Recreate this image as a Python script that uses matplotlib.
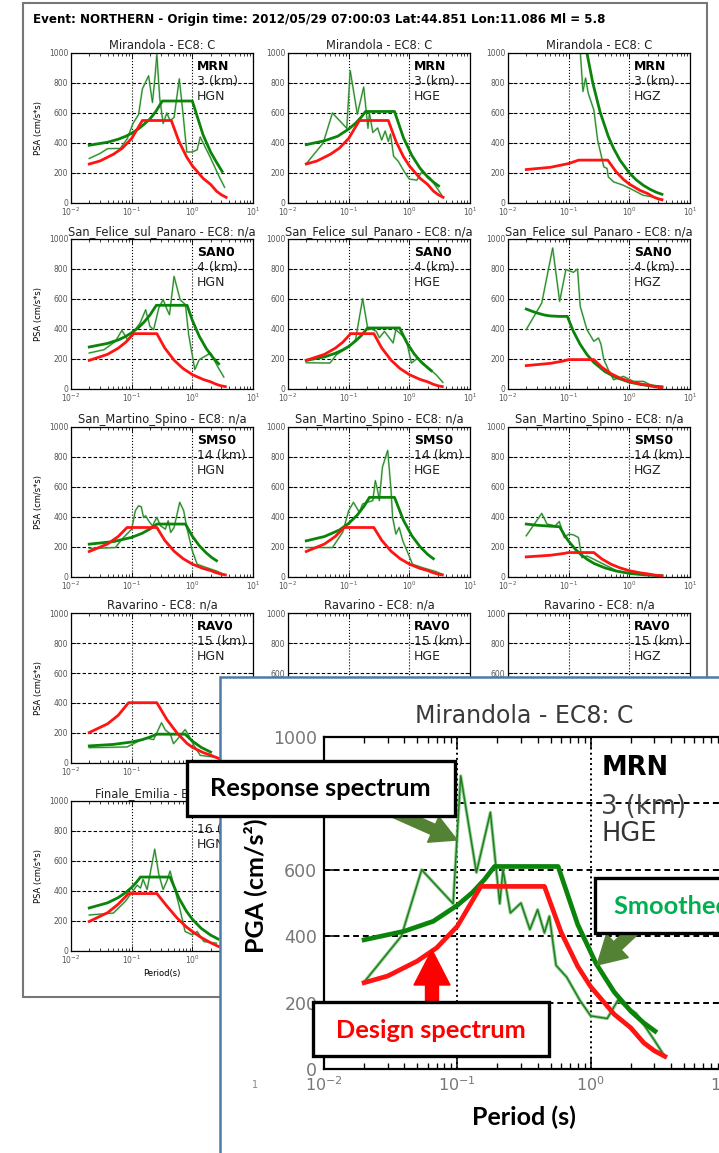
import matplotlib
matplotlib.use("Agg")
import matplotlib.pyplot as plt
from matplotlib.patches import Rectangle, FancyArrow
from matplotlib.transforms import Affine2D

# ---------------- data (period s, PSA cm/s^2) ----------------
event_title = "Event: NORTHERN - Origin time: 2012/05/29 07:00:03 Lat:44.851 Lon:11.086 Ml = 5.8"
stations = ["Mirandola", "San_Felice_sul_Panaro", "San_Martino_Spino", "Ravarino", "Finale_Emilia"]
ec8_class = ["C", "n/a", "n/a", "n/a", "n/a"]
codes = ["MRN", "SAN0", "SMS0", "RAV0", "FIN0"]
dist_km = [3, 4, 14, 15, 16]
components = ["HGN", "HGE", "HGZ"]

# Mirandola
mrn_h_design_T = [0.02, 0.03, 0.05, 0.07, 0.1, 0.15, 0.45, 0.6, 0.8, 1.0, 1.5, 2.0, 2.5, 3.0, 3.6]
mrn_h_design = [260, 280, 325, 365, 430, 550, 550, 412, 309, 248, 165, 124, 79, 55, 38]
mrn_z_design_T = [0.02, 0.05, 0.1, 0.146, 0.44, 0.6, 0.8, 1.0, 1.5, 2.0, 2.5, 3.0, 3.45]
mrn_z_design = [223, 238, 263, 286, 286, 210, 157, 126, 84, 63, 40, 28, 22]

mrn_hgn_smooth_T = [0.02, 0.04, 0.06, 0.08, 0.1, 0.13, 0.16, 0.2, 0.25, 0.32, 1.0, 1.5, 2.0, 2.5, 3.1]
mrn_hgn_smooth = [385, 405, 425, 445, 465, 495, 525, 560, 610, 680, 680, 455, 340, 272, 210]
mrn_hgn_resp_T = [0.02, 0.03, 0.04, 0.065, 0.085, 0.105, 0.13, 0.15, 0.19, 0.22, 0.24, 0.26, 0.29,
                  0.33, 0.38, 0.43, 0.5, 0.61, 0.7, 0.81, 1.0, 1.2, 1.35, 2.0, 2.7, 3.4]
mrn_hgn_resp = [297, 330, 362, 364, 430, 530, 590, 760, 848, 670, 820, 990, 700,
                530, 600, 550, 570, 828, 600, 340, 340, 355, 440, 300, 185, 105]

mrn_hge_smooth_T = [0.02, 0.04, 0.066, 0.1, 0.13, 0.16, 0.19, 0.57, 0.8, 1.1, 1.5, 2.0, 2.5, 3.04]
mrn_hge_smooth = [389, 415, 445, 493, 532, 571, 610, 610, 435, 317, 232, 174, 139, 114]
mrn_hge_resp_T = [0.02, 0.038, 0.054, 0.093, 0.106, 0.139, 0.177, 0.208, 0.22, 0.25, 0.3, 0.35, 0.4,
                  0.45, 0.49, 0.55, 0.66, 0.83, 1.0, 1.33, 1.6, 2.2, 3.0, 3.5]
mrn_hge_resp = [262, 400, 600, 498, 883, 592, 773, 498, 600, 470, 500, 420, 480,
                410, 460, 312, 277, 207, 160, 152, 207, 167, 87, 45]

mrn_hgz_smooth_T = [0.17, 0.2, 0.25, 0.33, 0.45, 0.55, 0.7, 1.0, 1.3, 1.7, 2.2, 2.8, 3.45]
mrn_hgz_smooth = [1180, 1000, 800, 606, 444, 364, 286, 200, 154, 118, 91, 71, 58]
mrn_hgz_resp_T = [0.15, 0.172, 0.19, 0.21, 0.26, 0.3, 0.38, 0.43, 0.45, 0.55, 0.8, 1.17, 1.7, 2.5, 3.45]
mrn_hgz_resp = [1100, 743, 833, 732, 620, 420, 241, 230, 174, 141, 118, 85, 51, 40, 18]

# San Felice sul Panaro
san_h_design_T = [0.02, 0.04, 0.06, 0.08, 0.108, 0.26, 0.35, 0.5, 0.7, 1.0, 1.5, 2.0, 2.5, 3.0, 3.5]
san_h_design = [191, 231, 272, 312, 369, 369, 274, 192, 137, 96, 64, 48, 31, 21, 16]
san_z_design_T = [0.02, 0.05, 0.08, 0.1, 0.26, 0.35, 0.5, 0.7, 1.0, 1.5, 2.0, 2.7, 3.45]
san_z_design = [156, 171, 186, 196, 196, 146, 102, 73, 51, 34, 26, 14, 9]

san_hgn_smooth_T = [0.02, 0.04, 0.06, 0.08, 0.1, 0.13, 0.16, 0.2, 0.255, 0.82, 1.0, 1.3, 1.7, 2.2, 2.72]
san_hgn_smooth = [280, 304, 327, 351, 375, 410, 446, 493, 558, 558, 458, 352, 269, 208, 168]
san_hgn_resp_T = [0.02, 0.035, 0.054, 0.069, 0.087, 0.1, 0.12, 0.138, 0.17, 0.2, 0.23, 0.28, 0.33,
                  0.38, 0.42, 0.5, 0.63, 0.77, 0.87, 1.1, 1.3, 2.0, 2.6, 3.3]
san_hgn_resp = [240, 262, 318, 391, 324, 360, 407, 440, 528, 418, 395, 540, 596,
                533, 495, 751, 595, 562, 362, 129, 196, 240, 151, 80]

san_hge_smooth_T = [0.02, 0.04, 0.06, 0.08, 0.1, 0.13, 0.16, 0.205, 0.69, 0.9, 1.2, 1.6, 2.3]
san_hge_smooth = [191, 214, 238, 261, 284, 320, 355, 407, 407, 312, 234, 176, 122]
san_hge_resp_T = [0.02, 0.049, 0.063, 0.104, 0.13, 0.17, 0.208, 0.24, 0.285, 0.32, 0.39, 0.45, 0.54,
                  0.6, 0.74, 0.89, 1.08, 1.38, 1.9, 2.77, 3.57]
san_hge_resp = [175, 173, 229, 284, 330, 602, 395, 400, 384, 342, 384, 350, 307,
                395, 362, 329, 173, 207, 151, 95, 44]

san_hgz_smooth_T = [0.02, 0.025, 0.03, 0.04, 0.05, 0.07, 0.095, 0.12, 0.155, 0.2, 0.26, 0.4, 0.6,
                    1.0, 1.5, 2.2, 3.45]
san_hgz_smooth = [533, 518, 507, 493, 487, 484, 484, 383, 297, 230, 177, 115, 77, 46, 31, 21, 15]
san_hgz_resp_T = [0.02, 0.036, 0.0545, 0.071, 0.09, 0.12, 0.14, 0.155, 0.2, 0.26, 0.31, 0.34, 0.38,
                  0.45, 0.55, 0.8, 1.17, 1.7, 2.2, 3.45]
san_hgz_resp = [396, 573, 940, 584, 796, 778, 800, 551, 396, 318, 340, 300, 196,
                129, 62, 84, 51, 51, 29, 11]

# San Martino Spino
sms_h_design_T = [0.02, 0.04, 0.06, 0.084, 0.26, 0.35, 0.5, 0.7, 1.0, 1.5, 2.0, 2.5, 3.0, 3.5]
sms_h_design = [170, 220, 270, 330, 330, 245, 172, 123, 86, 57, 43, 28, 19, 14]
sms_z_design_T = [0.02, 0.05, 0.08, 0.1, 0.26, 0.35, 0.5, 0.7, 1.0, 1.5, 2.0, 2.7, 3.45]
sms_z_design = [134, 145, 156, 163, 163, 121, 85, 61, 42, 28, 21, 12, 7]

sms_hgn_smooth_T = [0.02, 0.05, 0.1, 0.15, 0.2, 0.26, 0.77, 1.0, 1.3, 1.7, 2.1, 2.5]
sms_hgn_smooth = [219, 236, 264, 292, 320, 353, 353, 272, 209, 160, 129, 109]
sms_hgn_resp_T = [0.02, 0.054, 0.069, 0.1, 0.115, 0.13, 0.144, 0.157, 0.17, 0.19, 0.22, 0.26, 0.3,
                  0.36, 0.4, 0.44, 0.5, 0.62, 0.72, 0.81, 1.0, 1.2, 1.7, 2.5, 3.3]
sms_hgn_resp = [190, 196, 252, 319, 442, 475, 468, 397, 408, 375, 341, 397, 341,
                319, 375, 297, 330, 498, 442, 330, 174, 85, 63, 40, 18]

sms_hge_smooth_T = [0.02, 0.04, 0.07, 0.1, 0.14, 0.18, 0.22, 0.57, 0.8, 1.1, 1.5, 2.0, 2.49]
sms_hge_smooth = [241, 270, 313, 357, 415, 473, 531, 531, 378, 275, 202, 151, 122]
sms_hge_resp_T = [0.02, 0.054, 0.08, 0.1, 0.12, 0.15, 0.17, 0.21, 0.25, 0.275, 0.3, 0.32, 0.36,
                  0.44, 0.5, 0.53, 0.6, 0.68, 0.78, 0.94, 1.13, 1.66, 2.75, 3.5]
sms_hge_resp = [196, 196, 300, 442, 498, 431, 487, 500, 509, 643, 576, 509, 732,
                844, 576, 397, 286, 330, 241, 163, 85, 62, 36, 18]

sms_hgz_smooth_T = [0.02, 0.03, 0.045, 0.06, 0.071, 0.085, 0.1, 0.13, 0.16, 0.2, 0.26, 0.4, 0.6,
                    1.0, 1.5, 2.2, 3.45]
sms_hgz_smooth = [353, 345, 340, 337, 335, 280, 238, 183, 149, 119, 91, 60, 40, 24, 17, 12, 9]
sms_hgz_resp_T = [0.02, 0.036, 0.044, 0.06, 0.07, 0.085, 0.1, 0.12, 0.145, 0.165, 0.2, 0.26, 0.43,
                  0.63, 0.91, 1.7, 3.45]
sms_hgz_resp = [275, 424, 353, 341, 370, 263, 286, 281, 263, 129, 140, 118, 74, 40, 29, 18, 7]

# Ravarino
rav_h_design_T = [0.02, 0.04, 0.06, 0.089, 0.26, 0.38, 0.56, 0.82, 1.0, 1.5, 2.0, 3.0, 3.5]
rav_h_design = [203, 261, 318, 402, 402, 290, 200, 130, 105, 70, 52, 24, 18]
rav_hgn_smooth_T = [0.02, 0.05, 0.1, 0.15, 0.2, 0.26, 0.76, 1.0, 1.4, 2.0]
rav_hgn_smooth = [114, 124, 140, 156, 173, 192, 192, 146, 104, 73]
rav_hgn_resp_T = [0.02, 0.084, 0.108, 0.14, 0.18, 0.23, 0.31, 0.36, 0.43, 0.49, 0.6, 0.76, 0.87,
                  1.06, 1.35, 2.2, 2.9]
rav_hgn_resp = [102, 107, 129, 152, 165, 156, 268, 219, 196, 129, 170, 223, 185, 118, 51, 40, 29]

# Finale Emilia
fin_h_design_T = [0.02, 0.04, 0.06, 0.089, 0.26, 0.38, 0.56, 0.8, 1.0, 1.4, 2.0, 2.7]
fin_h_design = [197, 255, 312, 383, 383, 300, 220, 160, 130, 90, 55, 30]
fin_hgn_smooth_T = [0.02, 0.04, 0.06, 0.08, 0.1, 0.12, 0.14, 0.43, 0.6, 0.8, 1.0, 1.4, 2.0, 2.65]
fin_hgn_smooth = [287, 321, 356, 390, 424, 459, 493, 493, 353, 265, 212, 151, 106, 80]
fin_hgn_resp_T = [0.02, 0.05, 0.079, 0.1, 0.123, 0.14, 0.154, 0.18, 0.24, 0.28, 0.33, 0.38, 0.43,
                  0.6, 0.76, 1.0, 1.2, 1.55, 2.5]
fin_hgn_resp = [240, 253, 332, 388, 439, 420, 478, 410, 679, 511, 410, 466, 533,
                309, 130, 108, 130, 63, 52]

# row, col, response, smoothed, design
panels = [
    (0, 0, (mrn_hgn_resp_T, mrn_hgn_resp), (mrn_hgn_smooth_T, mrn_hgn_smooth), (mrn_h_design_T, mrn_h_design)),
    (0, 1, (mrn_hge_resp_T, mrn_hge_resp), (mrn_hge_smooth_T, mrn_hge_smooth), (mrn_h_design_T, mrn_h_design)),
    (0, 2, (mrn_hgz_resp_T, mrn_hgz_resp), (mrn_hgz_smooth_T, mrn_hgz_smooth), (mrn_z_design_T, mrn_z_design)),
    (1, 0, (san_hgn_resp_T, san_hgn_resp), (san_hgn_smooth_T, san_hgn_smooth), (san_h_design_T, san_h_design)),
    (1, 1, (san_hge_resp_T, san_hge_resp), (san_hge_smooth_T, san_hge_smooth), (san_h_design_T, san_h_design)),
    (1, 2, (san_hgz_resp_T, san_hgz_resp), (san_hgz_smooth_T, san_hgz_smooth), (san_z_design_T, san_z_design)),
    (2, 0, (sms_hgn_resp_T, sms_hgn_resp), (sms_hgn_smooth_T, sms_hgn_smooth), (sms_h_design_T, sms_h_design)),
    (2, 1, (sms_hge_resp_T, sms_hge_resp), (sms_hge_smooth_T, sms_hge_smooth), (sms_h_design_T, sms_h_design)),
    (2, 2, (sms_hgz_resp_T, sms_hgz_resp), (sms_hgz_smooth_T, sms_hgz_smooth), (sms_z_design_T, sms_z_design)),
    (3, 0, (rav_hgn_resp_T, rav_hgn_resp), (rav_hgn_smooth_T, rav_hgn_smooth), (rav_h_design_T, rav_h_design)),
    (3, 1, None, None, None),
    (3, 2, None, None, None),
    (4, 0, (fin_hgn_resp_T, fin_hgn_resp), (fin_hgn_smooth_T, fin_hgn_smooth), (fin_h_design_T, fin_h_design)),
]

# ---------------- layout (pixels of the 719x1153 picture) ----------------
W, H = 719, 1153
col_left = [71, 288, 508]
row_top = [53, 239, 427, 613, 801]
ax_w, ax_h = 182, 150

GREEN_THICK = "#0b840b"
GREEN_THIN = "#1e7b1e"
GREEN_LIGHT = "#74c274"
RED = "#ff1414"

fig = plt.figure(figsize=(W / 100, H / 100), dpi=100)
fig.patch.set_facecolor("white")
# pixel coords (origin top-left) -> figure
pix = Affine2D().scale(1 / W, -1 / H).translate(0, 1) + fig.transFigure


def px_box(x0, y0, x1, y1):
    return [x0 / W, 1 - y1 / H, (x1 - x0) / W, (y1 - y0) / H]


def style_axes(ax, lab, tick_len, lw_grid, lw_spine, lab_color):
    ax.set_xscale("log")
    ax.set_xlim(0.01, 10)
    ax.set_ylim(0, 1000)
    ax.set_yticks([0, 200, 400, 600, 800, 1000])
    ax.tick_params(which="both", direction="in", top=True, right=True,
                   labelsize=lab, labelcolor=lab_color, pad=tick_len * 0.6)
    ax.tick_params(which="major", length=tick_len, width=lw_spine * 0.7)
    ax.tick_params(which="minor", length=tick_len * 0.55, width=lw_spine * 0.6)
    ax.grid(True, which="major", axis="x", color="k", ls=":", lw=lw_grid)
    ax.grid(True, which="major", axis="y", color="k", ls=(0, (3, 2)), lw=lw_grid)
    for s in ax.spines.values():
        s.set_linewidth(lw_spine)


def draw_spectra(ax, resp, smooth, design, k=1.0):
    ax.plot(resp[0], resp[1], color=GREEN_LIGHT, lw=1.4 * k, alpha=0.8)
    ax.plot(resp[0], resp[1], color=GREEN_THIN, lw=0.6 * k)
    ax.plot(smooth[0], smooth[1], color=GREEN_THICK, lw=2.0 * k)
    ax.plot(design[0], design[1], color=RED, lw=2.0 * k)


# outer frame + event title
fig.add_artist(Rectangle((23, 3), 684, 994, transform=pix, fc="none", ec="#777777", lw=1.5, zorder=0.5))
fig.text(33, 20, event_title, transform=pix, fontsize=8.6, fontweight="bold", va="center")

# small panels
for row, col, resp, smooth, design in panels:
    x0, y0 = col_left[col], row_top[row]
    ax = fig.add_axes(px_box(x0, y0, x0 + ax_w, y0 + ax_h))
    style_axes(ax, 5.5, 3.5, 0.8, 0.9, "#555555")
    if resp is not None:
        draw_spectra(ax, resp, smooth, design)
    ax.set_title(f"{stations[row]} - EC8: {ec8_class[row]}", fontsize=8.3, pad=3, color="#222222")
    ax.text(1.2, 910, codes[row], fontsize=9, fontweight="bold", va="center")
    ax.text(1.2, 808, f"{dist_km[row]} (km)", fontsize=9, va="center", color="#222222")
    ax.text(1.2, 708, components[col], fontsize=9, va="center", color="#222222")
    if col == 0:
        ax.set_ylabel("PSA (cm/s*s)", fontsize=6, labelpad=4)
    if row == 4:
        ax.set_xlabel("Period(s)", fontsize=6, labelpad=2)

# zoomed inset of Mirandola HGE
fig.add_artist(Rectangle((220, 677), 600, 600, transform=pix, fc="white", ec="#4f7aa8", lw=1.8, zorder=4))
ax_in = fig.add_axes(px_box(324, 737, 724, 1069))
ax_in.set_zorder(5)
style_axes(ax_in, 11.5, 8, 1.4, 1.6, "#777777")
ax_in.tick_params(axis="y", labelsize=12.5)
draw_spectra(ax_in, (mrn_hge_resp_T, mrn_hge_resp), (mrn_hge_smooth_T, mrn_hge_smooth),
             (mrn_h_design_T, mrn_h_design), k=1.7)
ax_in.set_title(f"{stations[0]} - EC8: {ec8_class[0]}", fontsize=17, pad=10, color="#3a3a3a")
ax_in.text(1.2, 907, codes[0], fontsize=18.5, fontweight="bold", va="center")
ax_in.text(1.2, 790, f"{dist_km[0]} (km)", fontsize=18.5, va="center", color="#444444")
ax_in.text(1.2, 709, components[1], fontsize=18.5, va="center", color="#333333")
ax_in.set_xlabel("Period (s)", fontsize=18, fontweight="bold", family="Lato", labelpad=8)
fig.text(255, 886, "PGA (cm/s²)", transform=pix, rotation=90, ha="center", va="center",
         fontsize=18, fontweight="bold", family="Lato", zorder=6)
fig.text(255, 1085, "1", transform=pix, fontsize=7, color="#888888", ha="center", va="center", zorder=6)

# call-out boxes and arrows
fig.add_artist(FancyArrow(385, 808, 72, 32, width=11, head_width=28, head_length=26,
                          length_includes_head=True, transform=pix, color="#548235", zorder=9))
fig.add_artist(FancyArrow(645, 920, -48, 45, width=11, head_width=32, head_length=28,
                          length_includes_head=True, transform=pix, color="#548235", zorder=9))
fig.add_artist(FancyArrow(432, 1006, 0, -56, width=13, head_width=36, head_length=35,
                          length_includes_head=True, transform=pix, color="#ff0000", zorder=9))

for (bx0, by0, bx1, by1) in [(187, 761, 455, 816), (595, 878, 760, 933), (313, 1002, 549, 1056)]:
    fig.add_artist(Rectangle((bx0, by0), bx1 - bx0, by1 - by0, transform=pix, fc="white",
                             ec="black", lw=2.4, zorder=10))
fig.text(320, 789, "Response spectrum", transform=pix, ha="center", va="center",
         fontsize=18.3, fontweight="bold", family="Lato", color="black", zorder=11)
fig.text(614, 906, "Smoothed spectrum", transform=pix, ha="left", va="center",
         fontsize=18.3, fontweight="bold", family="Lato", color="#00b050", zorder=11)
fig.text(431, 1030, "Design spectrum", transform=pix, ha="center", va="center",
         fontsize=18.3, fontweight="bold", family="Lato", color="#ff0000", zorder=11)

fig.savefig("out.png", dpi=100)
